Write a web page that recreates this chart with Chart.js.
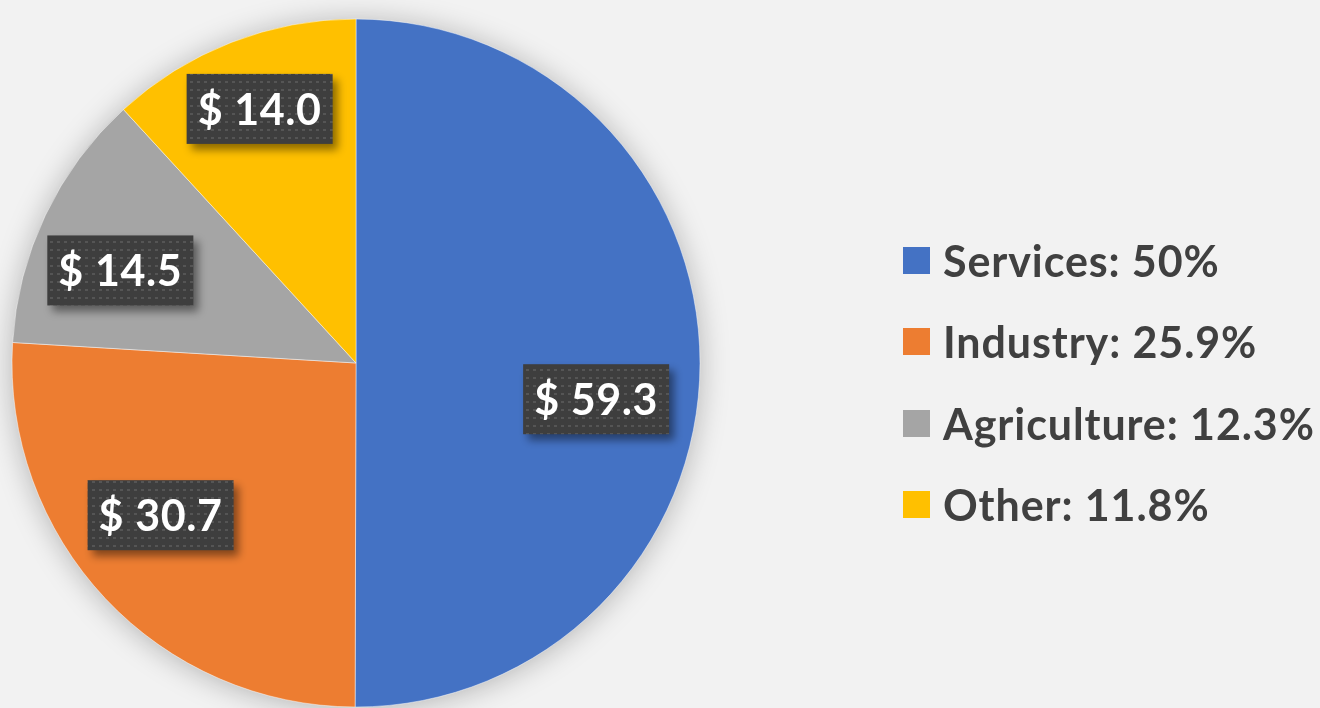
<!DOCTYPE html>
<html><head><meta charset="utf-8">
<script src="https://cdn.jsdelivr.net/npm/chart.js@4.4.1/dist/chart.umd.min.js"></script>
<style>
html,body{margin:0;padding:0;background:#F2F2F2;width:1320px;height:708px;overflow:hidden;}
#wrap{position:relative;width:1320px;height:708px;}
canvas{position:absolute;left:0;top:0;}
#legend{position:absolute;left:903px;top:0;font-family:Lato,"Open Sans",sans-serif;font-weight:700;font-size:43px;letter-spacing:0.9px;color:#404040;}
.item{position:absolute;left:0;display:flex;align-items:center;white-space:nowrap;height:50px;}
.sw{width:27px;height:27px;margin-right:13px;flex:none;}
</style></head>
<body><div id="wrap"><canvas id="c" width="1320" height="708"></canvas><div id="legend"></div></div>
<script>
// ---- data ----
const categories = ['Services', 'Industry', 'Agriculture', 'Other'];
const values = [59.3, 30.7, 14.5, 14.0];
const shareLabels = ['50%', '25.9%', '12.3%', '11.8%'];
const colors = ['#4472C4', '#ED7D31', '#A5A5A5', '#FFC000'];

// ---- label placement style (polar, relative to each slice) ----
const labelRadiusFrac = [0.706, 0.72, 0.736, 0.79];
const labelAngleShiftDeg = [8.5, 5.3, -4, 0.5];

// dotted texture for label boxes
function makePattern(ctx) {
  const t = document.createElement('canvas');
  t.width = 7; t.height = 8;
  const g = t.getContext('2d');
  g.fillStyle = '#3E3E3E'; g.fillRect(0, 0, 7, 8);
  g.fillStyle = '#555555'; g.fillRect(1, 1, 3, 2);
  return ctx.createPattern(t, 'repeat');
}

const shadowPlugin = {
  id: 'pieShadow',
  beforeDatasetsDraw(chart) {
    const arc = chart.getDatasetMeta(0).data[0];
    if (!arc) return;
    const {x, y, outerRadius} = arc.getProps(['x', 'y', 'outerRadius'], true);
    const ctx = chart.ctx;
    ctx.save();
    ctx.shadowColor = 'rgba(0,0,0,0.28)';
    ctx.shadowBlur = 30;
    ctx.shadowOffsetX = 0;
    ctx.shadowOffsetY = 2;
    ctx.fillStyle = '#F2F2F2';
    ctx.beginPath();
    ctx.arc(x, y, outerRadius - 1, 0, Math.PI * 2);
    ctx.fill();
    ctx.restore();
  }
};

const labelPlugin = {
  id: 'valueBoxes',
  afterDatasetsDraw(chart) {
    const ctx = chart.ctx;
    const meta = chart.getDatasetMeta(0);
    const pattern = makePattern(ctx);
    ctx.save();
    ctx.font = 'bold 43px Lato, "Open Sans", sans-serif';
    if ('letterSpacing' in ctx) ctx.letterSpacing = '0.6px';
    meta.data.forEach((arc, i) => {
      const p = arc.getProps(['x', 'y', 'startAngle', 'endAngle', 'outerRadius'], true);
      const mid = (p.startAngle + p.endAngle) / 2 + labelAngleShiftDeg[i] * Math.PI / 180;
      const r = p.outerRadius * labelRadiusFrac[i];
      const cx = p.x + Math.cos(mid) * r;
      const cy = p.y + Math.sin(mid) * r;
      const text = '$ ' + values[i].toFixed(1);
      const m = ctx.measureText(text);
      const dm = ctx.measureText('0');
      const w = m.width + 22, h = 70;
      const bx = cx - w / 2, by = cy - h / 2;
      ctx.save();
      ctx.shadowColor = 'rgba(0,0,0,0.45)';
      ctx.shadowBlur = 8;
      ctx.shadowOffsetX = 5;
      ctx.shadowOffsetY = 6;
      ctx.fillStyle = pattern;
      ctx.fillRect(bx, by, w, h);
      ctx.restore();
      ctx.fillStyle = '#FFFFFF';
      ctx.textAlign = 'center';
      ctx.textBaseline = 'alphabetic';
      ctx.fillText(text, cx, cy + dm.actualBoundingBoxAscent / 2);
    });
    ctx.restore();
  }
};

new Chart(document.getElementById('c'), {
  type: 'pie',
  data: {
    labels: categories,
    datasets: [{
      data: values,
      backgroundColor: colors,
      borderColor: 'rgba(255,255,255,0.45)',
      borderWidth: 1
    }]
  },
  options: {
    responsive: false,
    animation: false,
    radius: 344,
    layout: {padding: {left: 0, right: 608, top: 18, bottom: 0}},
    plugins: {legend: {display: false}, tooltip: {enabled: false}}
  },
  plugins: [shadowPlugin, labelPlugin]
});

// legend (HTML text)
const legendCenters = [260.5, 341.5, 423, 504.5];
const lg = document.getElementById('legend');
categories.forEach((c, i) => {
  const d = document.createElement('div');
  d.className = 'item';
  d.style.top = (legendCenters[i] - 25) + 'px';
  d.innerHTML = '<span class="sw" style="background:' + colors[i] + '"></span><span>' + c + ': ' + shareLabels[i] + '</span>';
  lg.appendChild(d);
});
</script>
</body></html>
